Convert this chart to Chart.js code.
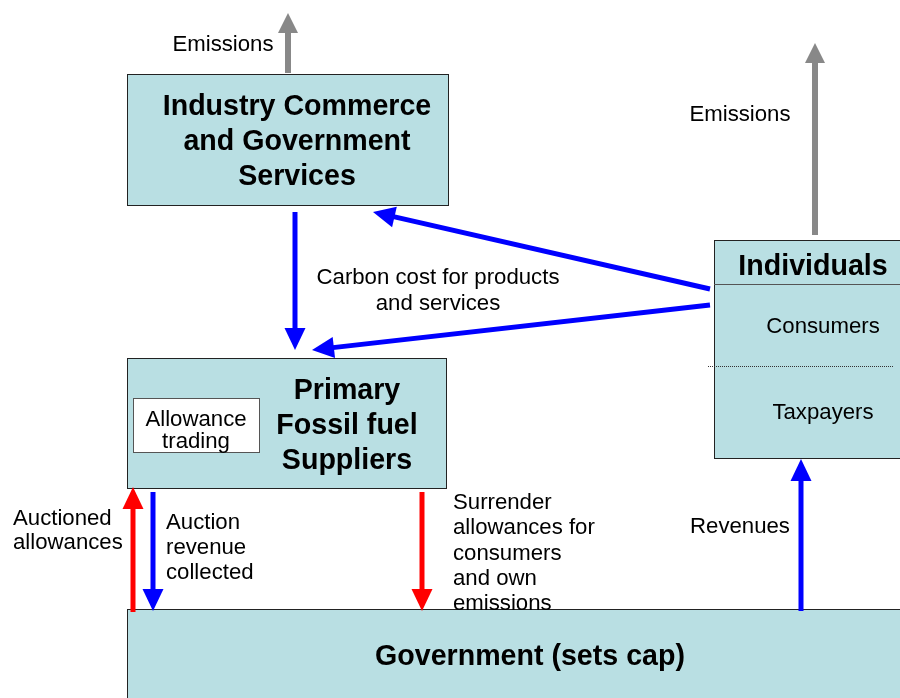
<!DOCTYPE html>
<html>
<head>
<meta charset="utf-8">
<script src="https://cdn.jsdelivr.net/npm/chart.js@4/dist/chart.umd.min.js"></script>
<style>
  html, body { margin: 0; padding: 0; background: #fff; }
  #wrap { width: 900px; height: 698px; }
</style>
</head>
<body>
<div id="wrap"><canvas id="flow" width="900" height="698"></canvas></div>
<script>
// diagram content, in page units (x right, y down)
const boxes = [
  { x0: 127, y0: 74, x1: 448, y1: 205, kind: 'main' },   // industry
  { x0: 127, y0: 358, x1: 446, y1: 488, kind: 'main' },  // primary suppliers
  { x0: 133, y0: 398, x1: 259, y1: 452, kind: 'inner' }, // allowance trading
  { x0: 714, y0: 240, x1: 903, y1: 458, kind: 'main' },  // individuals
  { x0: 127, y0: 609, x1: 903, y1: 705, kind: 'main' }   // government
];

const dividers = [
  { x0: 714, x1: 903, y: 284, dotted: false },
  { x0: 708, x1: 893, y: 366, dotted: true }
];

const arrows = [
  { from: [288, 73], to: [288, 13], kind: 'emission' },
  { from: [815, 235], to: [815, 43], kind: 'emission' },
  { from: [295, 212], to: [295, 350], kind: 'money' },
  { from: [710, 289], to: [373, 212], kind: 'money' },
  { from: [710, 305], to: [312, 350], kind: 'money' },
  { from: [133, 612], to: [133, 487], kind: 'permit' },
  { from: [153, 492], to: [153, 611], kind: 'money' },
  { from: [422, 492], to: [422, 611], kind: 'permit' },
  { from: [801, 611], to: [801, 459], kind: 'money' }
];

const labels = [
  { lines: ['Emissions'], x: 223, y: 45, step: 25, bold: false, align: 'center' },
  { lines: ['Emissions'], x: 740, y: 115, step: 25, bold: false, align: 'center' },
  { lines: ['Industry Commerce', 'and Government', 'Services'], x: 297, y: 107, step: 35, bold: true, align: 'center' },
  { lines: ['Carbon cost for products', 'and services'], x: 438, y: 278, step: 26, bold: false, align: 'center' },
  { lines: ['Individuals'], x: 813, y: 267, step: 35, bold: true, align: 'center' },
  { lines: ['Consumers'], x: 823, y: 327, step: 25, bold: false, align: 'center' },
  { lines: ['Taxpayers'], x: 823, y: 413, step: 25, bold: false, align: 'center' },
  { lines: ['Primary', 'Fossil fuel', 'Suppliers'], x: 347, y: 391, step: 35, bold: true, align: 'center' },
  { lines: ['Allowance', 'trading'], x: 196, y: 420, step: 22, bold: false, align: 'center' },
  { lines: ['Auctioned', 'allowances'], x: 13, y: 519, step: 24, bold: false, align: 'left' },
  { lines: ['Auction', 'revenue', 'collected'], x: 166, y: 523, step: 25, bold: false, align: 'left' },
  { lines: ['Surrender', 'allowances for', 'consumers', 'and own', 'emissions'], x: 453, y: 503, step: 25.3, bold: false, align: 'left' },
  { lines: ['Revenues'], x: 740, y: 527, step: 25, bold: false, align: 'center' },
  { lines: ['Government (sets cap)'], x: 530, y: 657, step: 35, bold: true, align: 'center' }
];

// styles
const FILL = '#b9dfe3';
const arrowStyle = {
  emission: { color: '#888888', width: 6, headLen: 20, headW: 20 },
  money:    { color: '#0000ff', width: 5, headLen: 22, headW: 21 },
  permit:   { color: '#ff0000', width: 5, headLen: 22, headW: 21 }
};
const FONT = '"Liberation Sans", Arial, sans-serif';

const diagramPlugin = {
  id: 'diagram',
  afterDraw(chart) {
    const ctx = chart.ctx;
    const sx = chart.scales.x, sy = chart.scales.y;
    const px = v => sx.getPixelForValue(v);
    const py = v => sy.getPixelForValue(v);

    ctx.save();
    // boxes
    boxes.forEach(b => {
      const x = px(b.x0), y = py(b.y0), w = px(b.x1) - x, h = py(b.y1) - y;
      ctx.fillStyle = b.kind === 'inner' ? '#ffffff' : FILL;
      ctx.fillRect(x, y, w, h);
      ctx.lineWidth = 1;
      ctx.strokeStyle = b.kind === 'inner' ? '#555555' : '#222222';
      ctx.strokeRect(Math.round(x) + 0.5, Math.round(y) + 0.5, Math.round(w), Math.round(h));
    });

    dividers.forEach(d => {
      ctx.beginPath();
      ctx.setLineDash(d.dotted ? [1, 1] : []);
      ctx.strokeStyle = d.dotted ? '#333333' : '#555555';
      ctx.lineWidth = 1;
      ctx.moveTo(px(d.x0), Math.round(py(d.y)) + 0.5);
      ctx.lineTo(px(d.x1), Math.round(py(d.y)) + 0.5);
      ctx.stroke();
    });
    ctx.setLineDash([]);

    // arrows
    arrows.forEach(a => {
      const st = arrowStyle[a.kind];
      const x0 = px(a.from[0]), y0 = py(a.from[1]);
      const x1 = px(a.to[0]), y1 = py(a.to[1]);
      const len = Math.hypot(x1 - x0, y1 - y0);
      const ux = (x1 - x0) / len, uy = (y1 - y0) / len;
      const bx = x1 - ux * st.headLen, by = y1 - uy * st.headLen;
      ctx.strokeStyle = st.color;
      ctx.lineWidth = st.width;
      ctx.lineCap = 'butt';
      ctx.beginPath();
      ctx.moveTo(x0, y0);
      ctx.lineTo(bx + ux, by + uy);
      ctx.stroke();
      ctx.fillStyle = st.color;
      ctx.beginPath();
      ctx.moveTo(x1, y1);
      ctx.lineTo(bx - uy * st.headW / 2, by + ux * st.headW / 2);
      ctx.lineTo(bx + uy * st.headW / 2, by - ux * st.headW / 2);
      ctx.closePath();
      ctx.fill();
    });

    // text
    ctx.fillStyle = '#000000';
    ctx.textBaseline = 'middle';
    labels.forEach(l => {
      ctx.font = (l.bold ? 'bold 28.6px ' : '22.2px ') + FONT;
      ctx.textAlign = l.align;
      l.lines.forEach((t, i) => ctx.fillText(t, px(l.x), py(l.y + i * l.step)));
    });
    ctx.restore();
  }
};

new Chart(document.getElementById('flow'), {
  type: 'scatter',
  data: { datasets: [{ data: [], pointRadius: 0 }] },
  options: {
    responsive: false,
    animation: false,
    layout: { padding: 0 },
    scales: {
      x: { type: 'linear', min: 0, max: 900, display: false },
      y: { type: 'linear', min: 0, max: 698, reverse: true, display: false }
    },
    plugins: { legend: { display: false }, tooltip: { enabled: false } }
  },
  plugins: [diagramPlugin]
});
</script>
</body>
</html>
